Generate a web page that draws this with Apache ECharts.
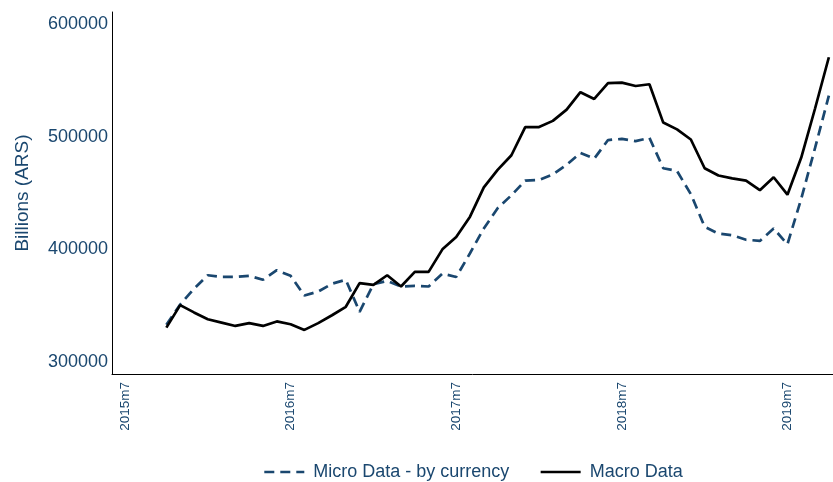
<!DOCTYPE html>
<html>
<head>
<meta charset="utf-8">
<script src="https://cdn.jsdelivr.net/npm/echarts@6/dist/echarts.min.js"></script>
<style>
  html, body { margin: 0; padding: 0; background: #fff; }
  #chart { width: 833px; height: 482px; }
</style>
</head>
<body>
<div id="chart"></div>
<script>
const NAVY = '#1a476f'
const FONT = '"Liberation Sans", Arial, sans-serif'

// monthly observations, 2015m10 .. 2019m10
const months = [
  '2015m10', '2015m11', '2015m12', '2016m1', '2016m2', '2016m3', '2016m4', '2016m5', '2016m6', '2016m7',
  '2016m8', '2016m9', '2016m10', '2016m11', '2016m12', '2017m1', '2017m2', '2017m3', '2017m4', '2017m5',
  '2017m6', '2017m7', '2017m8', '2017m9', '2017m10', '2017m11', '2017m12', '2018m1', '2018m2', '2018m3',
  '2018m4', '2018m5', '2018m6', '2018m7', '2018m8', '2018m9', '2018m10', '2018m11', '2018m12', '2019m1',
  '2019m2', '2019m3', '2019m4', '2019m5', '2019m6', '2019m7', '2019m8', '2019m9', '2019m10'
]

const microData = [
  333000, 351000, 365000, 377000, 375500, 375500, 376500, 373000, 381500, 376500,
  359000, 362500, 369500, 373000, 344500, 369000, 372000, 367000, 367500, 367000,
  378500, 375500, 396500, 418500, 436500, 448000, 461000, 461500, 466500, 475000,
  485500, 480500, 497000, 498000, 496000, 499000, 472000, 469500, 449000, 420000,
  414000, 412500, 408500, 407500, 418500, 404500, 445000, 490000, 536500
]

const macroData = [
  330500, 350500, 344000, 338000, 335000, 332000, 334500, 332000, 336000, 333500,
  328500, 334500, 341500, 349000, 370000, 368500, 377000, 367000, 380000, 380000,
  400000, 411000, 429000, 455000, 470500, 483500, 508500, 508500, 514000, 524000,
  539500, 533500, 547500, 548000, 545000, 546500, 512500, 506500, 497500, 472000,
  465500, 463000, 461000, 452500, 464000, 448500, 481500, 525000, 570500
]

const yTicks = [300000, 400000, 500000, 600000]
const xTickLabels = ['2015m7', '2016m7', '2017m7', '2018m7', '2019m7']

// month offset from 2015m7
const monthIndex = (s) => {
  const [y, m] = s.split('m').map(Number)
  return (y - 2015) * 12 + (m - 7)
}
const xTickValues = xTickLabels.map(monthIndex)

const toPoints = (arr) => arr.map((v, i) => [monthIndex(months[i]), v])

const chart = echarts.init(document.getElementById('chart'))

chart.setOption({
  animation: false,
  backgroundColor: '#ffffff',
  textStyle: { fontFamily: FONT },
  grid: { left: 112, right: 0, top: 12, bottom: 108, containLabel: false, outerBoundsMode: 'none' },
  legend: {
    top: 458,
    left: 258,
    itemWidth: 40,
    itemHeight: 22,
    itemGap: 30,
    itemStyle: { opacity: 0 },
    lineStyle: { width: 2.6 },
    textStyle: { color: NAVY, fontSize: 18, fontFamily: FONT, padding: [0, 0, 0, 4] },
    data: ['Micro Data - by currency', 'Macro Data']
  },
  xAxis: {
    type: 'value',
    min: -0.94,
    max: 51.3,
    splitLine: { show: false },
    axisLine: { show: true, onZero: false, lineStyle: { color: '#000', width: 1 } },
    axisTick: { show: false },
    axisLabel: {
      customValues: xTickValues,
      rotate: 90,
      margin: 8,
      color: NAVY,
      fontSize: 13.5,
      fontFamily: FONT,
      formatter: (v) => xTickLabels[xTickValues.indexOf(v)] || ''
    }
  },
  yAxis: {
    type: 'value',
    min: 289350,
    max: 610650,
    name: 'Billions (ARS)',
    nameLocation: 'middle',
    nameGap: 80,
    nameTextStyle: { color: NAVY, fontSize: 19, fontFamily: FONT },
    splitLine: { show: false },
    axisLine: { show: true, onZero: false, lineStyle: { color: '#000', width: 1 } },
    axisTick: { show: false },
    axisLabel: {
      customValues: yTicks,
      margin: 4,
      color: NAVY,
      fontSize: 18,
      fontFamily: FONT,
      formatter: (v) => String(v)
    }
  },
  series: [
    {
      name: 'Micro Data - by currency',
      type: 'line',
      symbol: 'none',
      data: toPoints(microData),
      lineStyle: { color: NAVY, width: 2.7, type: [10, 6] },
      itemStyle: { color: NAVY }
    },
    {
      name: 'Macro Data',
      type: 'line',
      symbol: 'none',
      data: toPoints(macroData),
      lineStyle: { color: '#000', width: 2.7 },
      itemStyle: { color: '#000' }
    }
  ]
})
</script>
</body>
</html>
